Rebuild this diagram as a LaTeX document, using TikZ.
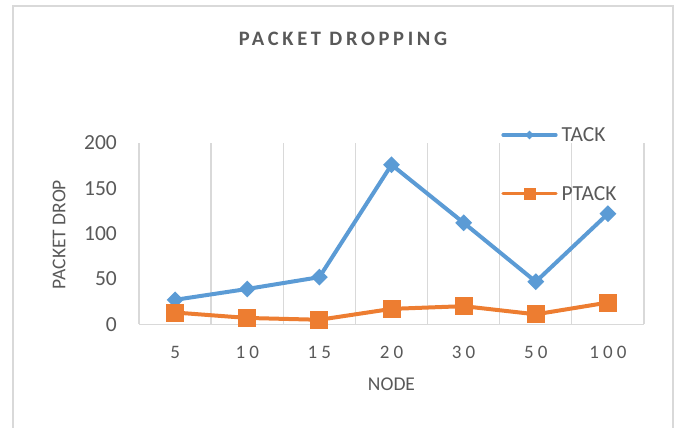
\documentclass[tikz,border=0pt]{standalone}
\usepackage{fontspec}
\setmainfont{Carlito}
\newfontfamily\tickfont[LetterSpace=22]{Carlito}
\newfontfamily\titlefont[LetterSpace=18]{Carlito}
\usetikzlibrary{shapes.geometric}
\definecolor{tblue}{HTML}{5B9BD5}
\definecolor{torange}{HTML}{ED7D31}
\definecolor{txt}{HTML}{595959}
\definecolor{gridc}{HTML}{D9D9D9}
\tikzset{
  gridline/.style={draw=gridc, line width=1.3},
  frameline/.style={draw=gridc, line width=1.6},
  lbl/.style={text=txt, inner sep=0pt, font=\fontsize{21.5}{24}\selectfont},
  xlbl/.style={text=txt, inner sep=0pt, font=\tickfont\fontsize{19}{22}\selectfont},
  axtitle/.style={text=txt, inner sep=0pt, font=\fontsize{19.5}{23}\selectfont},
  bline/.style={draw=tblue, line width=4, line join=round, line cap=round},
  oline/.style={draw=torange, line width=4, line join=round, line cap=round},
  bmark/.style={diamond, fill=tblue, inner sep=0pt, minimum width=17, minimum height=17},
  omark/.style={rectangle, fill=torange, inner sep=0pt, minimum size=18},
}
\begin{document}
\begin{tikzpicture}[x=1pt,y=-1pt]
\useasboundingbox (0,0) rectangle (677,428);
% frame
\draw[frameline] (13,428) -- (13,6) -- (673,6) -- (673,428);
% title
\node[text=txt, inner sep=0pt, anchor=base, font=\titlefont\bfseries\fontsize{20.5}{24}\selectfont] (title) at (343,46) {PACKET DROPPING};
% gridlines
\foreach \i in {0,...,7} {
  \draw[gridline] ({139+72.14*\i},143.3) -- ({139+72.14*\i},324.3);
}
\draw[gridline] (139,324.3) -- (644,324.3);
% y labels
\foreach \v in {0,50,100,150,200} {
  \node[lbl, anchor=east] (y\v) at (117,{324.3-0.9065*\v}) {\v};
}
% x labels
\foreach \l [count=\i from 0] in {5,10,15,20,30,50,100} {
  \node[xlbl] (x\i) at ({175.1+72.14*\i},352.5) {\l};
}
\node[axtitle] (xt) at (391.5,384) {NODE};
\node[axtitle, rotate=90] (yt) at (59,234.5) {PACKET DROP};
% data
\foreach \v [count=\i from 0] in {27,39,52,176,112,47,122} {
  \coordinate (b\i) at ({175.1+72.14*\i},{324.3-0.9065*\v});
}
\foreach \v [count=\i from 0] in {13,7,5,17,20,11,24} {
  \coordinate (o\i) at ({175.1+72.14*\i},{324.3-0.9065*\v});
}
\draw[bline] (b0) -- (b1) -- (b2) -- (b3) -- (b4) -- (b5) -- (b6);
\foreach \i in {0,...,6} { \node[bmark] (bm\i) at (b\i) {}; }
\draw[oline] (o0) -- (o1) -- (o2) -- (o3) -- (o4) -- (o5) -- (o6);
\foreach \i in {0,...,6} { \node[omark] (om\i) at (o\i) {}; }
% legend
\coordinate (lb1) at (503,135);
\coordinate (lb2) at (556,135);
\coordinate (lo1) at (503,193.5);
\coordinate (lo2) at (556,193.5);
\draw[draw=tblue, line width=3.2, line cap=round] (lb1) -- (lb2);
\node[diamond, fill=tblue, inner sep=0pt, minimum width=9, minimum height=9] (lbm) at (529.5,135) {};
\node[lbl, anchor=west] (lbt) at (561.5,135) {TACK};
\draw[draw=torange, line width=3.2, line cap=round] (lo1) -- (lo2);
\node[rectangle, fill=torange, inner sep=0pt, minimum size=12] (lom) at (529.5,193.5) {};
\node[lbl, anchor=west] (lot) at (561.5,193.5) {PTACK};
\end{tikzpicture}
\end{document}
